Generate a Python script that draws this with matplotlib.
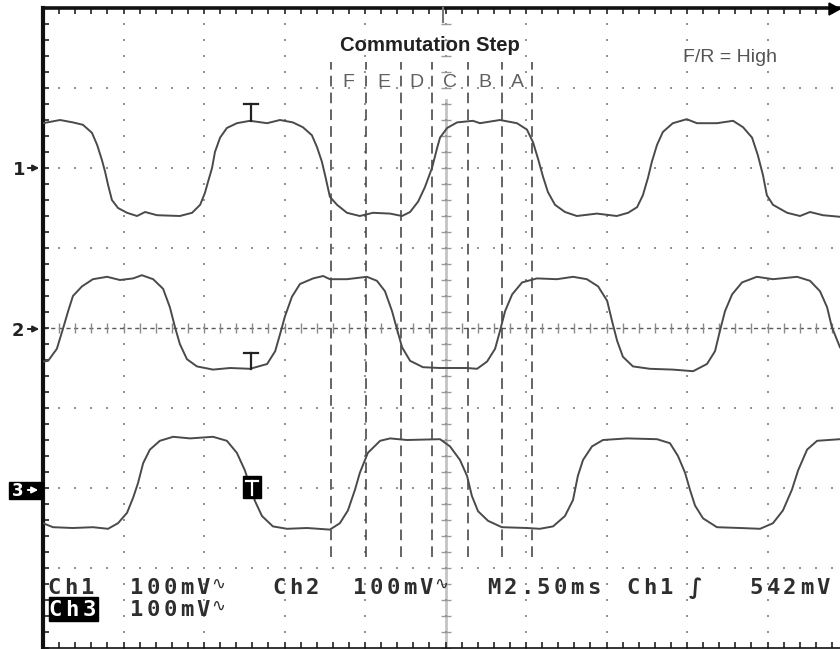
import matplotlib
matplotlib.use("Agg")
import matplotlib.pyplot as plt
from matplotlib.patches import Rectangle, Polygon, FancyArrowPatch
from matplotlib.lines import Line2D
import numpy as np

W, H = 840, 649

# scope settings: 10 x 8 divisions, 2.5 ms/div, 100 mV/div
ms_per_div = 2.5
mv_per_div = 100.0
n_xdiv, n_ydiv = 10, 8

# channel ground level (divisions from screen centre)
ch1_offset, ch2_offset, ch3_offset = 2.0, 0.0, -2.0

# traces: time (ms) / level (mV above channel marker)
ch1_t = [0.00, 0.53, 0.93, 1.24, 1.52, 1.68, 1.83, 1.93, 2.02, 2.14,
         2.33, 2.61, 2.92, 3.17, 3.54, 4.25, 4.63, 4.88, 5.03, 5.12,
         5.25, 5.34, 5.50, 5.71, 6.02, 6.43, 6.96, 7.36, 7.76, 8.07,
         8.35, 8.51, 8.66, 8.76, 8.91, 9.13, 9.44, 9.84, 10.25, 10.78,
         11.15, 11.40, 11.65, 11.86, 12.08, 12.24, 12.33, 12.55, 12.86, 13.35,
         13.57, 14.19, 14.72, 15.03, 15.22, 15.37, 15.53, 15.68, 15.90, 16.21,
         16.58, 17.20, 17.82, 18.17, 18.45, 18.63, 18.79, 18.91, 19.07, 19.25,
         19.56, 19.99, 20.31, 20.93, 21.43, 21.74, 22.02, 22.20, 22.36, 22.48,
         22.67, 23.11, 23.51, 23.82, 24.22, 24.75]
ch1_mv = [56, 60, 57, 54, 44, 29, 10, -5, -21, -40,
          -50, -56, -60, -55, -59, -60, -56, -46, -31, -18,
          0, 20, 38, 50, 56, 59, 56, 60, 57, 51,
          41, 26, 8, -9, -36, -46, -56, -60, -56, -57,
          -60, -55, -42, -24, 0, 25, 38, 50, 57, 59,
          56, 60, 56, 48, 32, 12, -11, -30, -46, -55,
          -60, -57, -60, -56, -49, -34, -12, 8, 29, 45,
          56, 61, 56, 56, 59, 51, 38, 16, -9, -34,
          -46, -56, -60, -55, -59, -61]

ch2_t = [0.00, 0.16, 0.43, 0.62, 0.78, 0.93, 1.21, 1.55, 1.99, 2.39,
         2.80, 3.07, 3.42, 3.73, 3.94, 4.10, 4.25, 4.47, 4.78, 5.28,
         5.81, 6.43, 6.96, 7.21, 7.36, 7.51, 7.73, 7.98, 8.39, 8.70,
         8.91, 9.44, 10.06, 10.37, 10.62, 10.84, 10.99, 11.15, 11.40, 11.80,
         12.33, 13.17, 13.48, 13.79, 14.04, 14.19, 14.35, 14.57, 14.88, 15.34,
         15.96, 16.46, 16.89, 17.24, 17.52, 17.67, 17.83, 18.01, 18.32, 18.85,
         19.56, 20.19, 20.62, 20.87, 21.02, 21.18, 21.40, 21.71, 22.17, 22.67,
         23.42, 23.82, 24.13, 24.35, 24.50, 24.75]
ch2_mv = [-42, -41, -26, -1, 21, 40, 52, 61, 64, 60,
          62, 66, 61, 49, 26, 1, -20, -39, -48, -52,
          -50, -51, -45, -29, -8, 14, 39, 55, 62, 65,
          61, 61, 64, 59, 46, 21, -1, -24, -41, -49,
          -50, -50, -51, -42, -26, -4, 21, 42, 57, 62,
          61, 64, 61, 52, 34, 9, -16, -36, -48, -51,
          -52, -54, -45, -29, -4, 21, 42, 57, 64, 61,
          64, 59, 46, 26, 1, -24]

ch3_t = [0.00, 0.31, 0.93, 1.55, 2.02, 2.33, 2.61, 2.80, 2.95, 3.11,
         3.32, 3.63, 4.04, 4.57, 5.28, 5.71, 6.02, 6.27, 6.43, 6.58,
         6.80, 7.14, 7.58, 8.20, 8.91, 9.22, 9.47, 9.69, 9.84, 10.09,
         10.47, 10.78, 11.30, 12.33, 12.64, 12.95, 13.17, 13.32, 13.51, 13.82,
         14.25, 15.03, 15.43, 15.84, 16.21, 16.46, 16.61, 16.77, 17.05, 17.39,
         18.14, 19.07, 19.47, 19.72, 19.94, 20.09, 20.25, 20.50, 20.93, 21.65,
         22.27, 22.67, 22.98, 23.26, 23.45, 23.73, 24.04, 24.75]
ch3_mv = [-44, -49, -50, -49, -51, -44, -31, -12, 6, 31,
          48, 59, 64, 62, 64, 59, 44, 22, 2, -16,
          -35, -48, -51, -50, -52, -44, -28, -2, 19, 44,
          59, 62, 60, 61, 52, 35, 15, -10, -29, -41,
          -49, -50, -51, -48, -35, -15, 15, 35, 52, 60,
          62, 61, 56, 40, 19, -2, -22, -38, -49, -50,
          -51, -44, -28, -2, 22, 48, 59, 61]

# commutation step boundaries (ms)
commutation_ms = [8.94, 10.03, 11.12, 12.08, 13.20, 14.25, 15.19]
step_labels = ["F", "E", "D", "C", "B", "A"]


def P(x, y):
    # screenshot pixel -> figure fraction
    return x / W, 1 - y / H


fig = plt.figure(figsize=(W / 100, H / 100), dpi=100)
fig.patch.set_facecolor("white")
ax = fig.add_axes([43 / W, 1 / H, 805 / W, 640 / H])
xmax = n_xdiv * ms_per_div
ax.set_xlim(0, xmax)
ax.set_ylim(-n_ydiv / 2, n_ydiv / 2)

# graticule: dotted divisions
dot_kw = dict(ls="none", marker="s", ms=1.6, mew=0, color="#949494", zorder=1)
fine_x = np.arange(0, xmax + 0.01, ms_per_div / 5)
fine_y = np.arange(-4, 4.01, 0.2)
for gx in np.arange(ms_per_div, xmax, ms_per_div):
    if abs(gx - xmax / 2) < 1e-6:
        continue
    ax.plot(np.full_like(fine_y, gx), fine_y, **dot_kw)
for gy in range(-3, 4):
    if gy == 0:
        continue
    ax.plot(fine_x, np.full_like(fine_x, gy), **dot_kw)

# centre crosshair with small ticks
ax.axhline(0, color="#5a5a5a", lw=1.0, ls=(0, (3, 2.5)), zorder=1)
ax.plot(fine_x, np.zeros_like(fine_x), ls="none", marker="|", ms=7, mew=1,
        color="#8a8a8a", zorder=1)
ax.plot([xmax / 2, xmax / 2], [-4, 2.85], color="#c4c4c4", lw=2.0, zorder=1)
ax.plot(np.full_like(fine_y, xmax / 2), fine_y, ls="none", marker="_", ms=7,
        mew=1, color="#9a9a9a", zorder=1)
ax.plot(np.full_like(fine_y, xmax / 2), fine_y, **dot_kw)

# commutation step markers
ax.vlines(commutation_ms, -2.86, 3.32, colors="#3a3a3a", lw=1.1,
          linestyles=(0, (7, 4)), zorder=2)
for i, lab in enumerate(step_labels):
    mid = (commutation_ms[i] + commutation_ms[i + 1]) / 2
    ax.text(mid, 3.01, lab, ha="center", va="baseline", fontsize=14,
            color="#606060", family="Liberation Sans", zorder=3)

# traces
trace_kw = dict(color="#4a4a4a", lw=1.4, solid_joinstyle="round", zorder=4)
ax.plot(ch1_t, ch1_offset + np.array(ch1_mv) / mv_per_div, **trace_kw)
ax.plot(ch2_t, ch2_offset + np.array(ch2_mv) / mv_per_div, **trace_kw)
ax.plot(ch3_t, ch3_offset + np.array(ch3_mv) / mv_per_div, **trace_kw)

# frame and ticks
ax.set_xticks(np.arange(0, xmax + 0.01, ms_per_div))
ax.set_xticks(fine_x, minor=True)
ax.set_yticks(np.arange(-4, 4.01, 1))
ax.set_yticks(fine_y, minor=True)
ax.tick_params(which="both", direction="in", length=4, width=1.2, color="#222222",
               top=True, right=False, labelbottom=False, labelleft=False)
ax.spines["right"].set_visible(False)
ax.spines["left"].set_linewidth(3)
ax.spines["top"].set_linewidth(2.6)
ax.spines["bottom"].set_linewidth(1.2)
for s in ax.spines.values():
    s.set_color("#111111")
ax.set_facecolor("white")

# titles on screen
fig.text(*P(340, 51), "Commutation Step", fontsize=14.6, weight="bold",
         color="#222222", family="Liberation Sans", ha="left", va="baseline")
fig.text(*P(683, 62), "F/R = High", fontsize=14, color="#555555",
         family="Liberation Sans", ha="left", va="baseline")


def arrow(x0, x1, y, color):
    fig.add_artist(FancyArrowPatch(P(x0, y), P(x1, y), transform=fig.transFigure,
                                   arrowstyle="-|>", mutation_scale=9, lw=1.4,
                                   color=color))


# channel ground markers
fig.text(*P(19, 175), "1", fontsize=13, weight="bold", color="#222222",
         ha="center", va="baseline")
arrow(25, 42, 168, "#222222")
fig.text(*P(18, 336), "2", fontsize=13, weight="bold", color="#222222",
         ha="center", va="baseline")
arrow(25, 42, 329, "#222222")
fig.add_artist(Rectangle(P(9, 499), 34 / W, 17 / H, transform=fig.transFigure,
                         color="black"))
fig.text(*P(18, 496), "3", fontsize=12, weight="bold", color="white",
         ha="center", va="baseline")
arrow(25, 41, 490, "white")

# trigger level markers
for y_top, y_bot in [(104, 121), (353, 369)]:
    fig.add_artist(Line2D([244 / W, 258 / W], [1 - y_top / H] * 2,
                          transform=fig.transFigure, color="#222222", lw=1.6))
    fig.add_artist(Line2D([251 / W] * 2, [1 - y_top / H, 1 - y_bot / H],
                          transform=fig.transFigure, color="#222222", lw=1.6))
fig.add_artist(Rectangle(P(243, 498), 18 / W, 22 / H, transform=fig.transFigure,
                         color="black"))
fig.add_artist(Line2D([246 / W, 258 / W], [1 - 481 / H] * 2,
                      transform=fig.transFigure, color="white", lw=1.6))
fig.add_artist(Line2D([252 / W] * 2, [1 - 481 / H, 1 - 495 / H],
                      transform=fig.transFigure, color="white", lw=1.6))

# trigger position marks on the top frame
fig.add_artist(Line2D([443 / W] * 2, [1 - 8 / H, 1 - 22 / H],
                      transform=fig.transFigure, color="#777777", lw=1.5))
fig.add_artist(Polygon([P(829, 3), P(840, 9), P(829, 15)], closed=True,
                       transform=fig.transFigure, color="black"))


def scope_text(x0, y, s, color="#2e2e2e", pitch=16.7):
    for i, ch in enumerate(s):
        cx = (x0 + 6.5 + i * pitch) / W
        if ch == "\u223f":
            fig.text(cx - 2 / W, 1 - (y - 5) / H, ch, ha="center", va="baseline",
                     fontsize=12, color=color, family="DejaVu Sans")
        else:
            fig.text(cx, 1 - y / H, ch, ha="center", va="baseline", fontsize=16,
                     weight="bold", color=color, family="DejaVu Sans Mono")


# readout
scope_text(48, 594, "Ch1")
scope_text(130, 594, "100mV\u223f")
scope_text(273, 594, "Ch2")
scope_text(353, 594, "100mV\u223f")
scope_text(487, 594, "M2.50ms")
scope_text(627, 594, "Ch1")
fig.text(*P(695, 594), "\u222b", fontsize=16, weight="bold", color="#2e2e2e",
         ha="center", va="baseline", family="DejaVu Sans")
scope_text(750, 594, "542mV")
fig.add_artist(Rectangle(P(49, 621), 49 / W, 24 / H, transform=fig.transFigure,
                         color="black"))
scope_text(49, 616, "Ch3", color="white")
scope_text(130, 616, "100mV\u223f")

fig.savefig("out.png", dpi=100, facecolor="white")
